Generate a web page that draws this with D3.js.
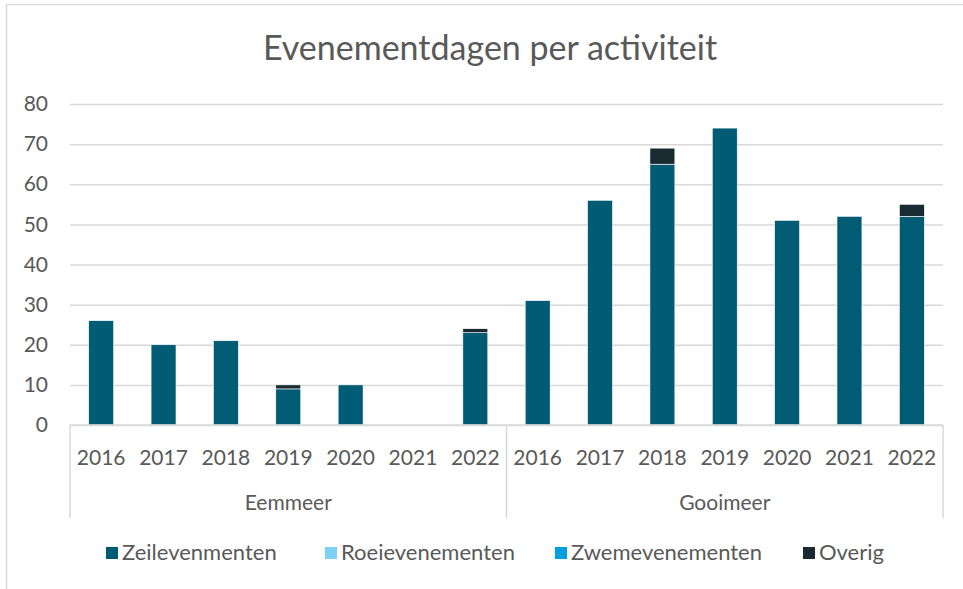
<!DOCTYPE html>
<html>
<head>
<meta charset="utf-8">
<script src="https://cdn.jsdelivr.net/npm/d3@7"></script>
<style>
  body { margin: 0; background: #fff; }
  svg text { font-family: Lato, "Open Sans", sans-serif; fill: #595959; }
</style>
</head>
<body>
<div class="chart"></div>
<script>
// data
const lakes = ['Eemmeer', 'Gooimeer'];
const years = ['2016', '2017', '2018', '2019', '2020', '2021', '2022'];
const series = ['Zeilevenmenten', 'Roeievenementen', 'Zwemevenementen', 'Overig'];
const colors = ['#005b74', '#7fd0f5', '#009fdf', '#1a2a31'];
const zeil = [26, 20, 21, 9, 10, 0, 23, 31, 56, 65, 74, 51, 52, 52];
const roei = [0, 0, 0, 0, 0, 0, 0, 0, 0, 0, 0, 0, 0, 0];
const zwem = [0, 0, 0, 0, 0, 0, 0, 0, 0, 0, 0, 0, 0, 0];
const overig = [0, 0, 0, 1, 0, 0, 1, 0, 0, 4, 0, 0, 0, 3];
const yTicks = [0, 10, 20, 30, 40, 50, 60, 70, 80];

// build rows for the stack
const rows = [];
lakes.forEach((lake, li) => {
    years.forEach((yr, yi) => {
        const i = li * years.length + yi;
        rows.push({key: lake + '-' + yr, lake: lake, year: yr,
            Zeilevenmenten: zeil[i], Roeievenementen: roei[i],
            Zwemevenementen: zwem[i], Overig: overig[i]});
    });
});

const width = 963, height = 589;
const margin = {top: 104, right: 20, bottom: 164, left: 70};
const chartWidth = width - margin.left - margin.right;
const chartHeight = height - margin.top - margin.bottom;

const svg = d3.select('.chart').append('svg')
    .attr('width', width)
    .attr('height', height);

// outer chart border (only top and left show in the picture)
svg.append('path')
    .attr('d', `M6.5,${height} V4.5 H${width}`)
    .attr('fill', 'none')
    .attr('stroke', '#d9d9d9')
    .attr('stroke-width', 1.5);

svg.append('text')
    .attr('x', 490)
    .attr('y', 60)
    .attr('text-anchor', 'middle')
    .style('font-size', '34px')
    .text('Evenementdagen per activiteit');

const g = svg.append('g')
    .attr('transform', `translate(${margin.left}, ${margin.top})`);

const xScale = d3.scaleBand()
    .domain(rows.map(d => d.key))
    .range([0, chartWidth])
    .paddingInner(0.6)
    .paddingOuter(0.3);

const yScale = d3.scaleLinear()
    .domain([0, 80])
    .range([chartHeight, 0]);

// gridlines + y labels
const yAxis = d3.axisLeft(yScale)
    .tickValues(yTicks)
    .tickSizeInner(-chartWidth)
    .tickSizeOuter(0)
    .tickPadding(22);

const yAxisDraw = g.append('g')
    .attr('class', 'y axis')
    .call(yAxis);
yAxisDraw.select('.domain').remove();
yAxisDraw.selectAll('.tick line').attr('stroke', '#d9d9d9').attr('stroke-width', 1.5);
yAxisDraw.selectAll('.tick text').style('font-size', '21px').attr('fill', '#595959');

// stacked bars
const stack = d3.stack().keys(series)(rows);
g.append('g')
    .selectAll('g')
    .data(stack)
    .enter()
    .append('g')
    .attr('fill', (d, i) => colors[i])
    .selectAll('rect')
    .data(d => d.filter(p => p[1] > p[0]))
    .enter()
    .append('rect')
    .attr('x', d => xScale(d.data.key))
    .attr('y', d => yScale(d[1]))
    .attr('width', xScale.bandwidth())
    .attr('height', d => yScale(d[0]) - yScale(d[1]))
    .attr('stroke', '#ffffff')
    .attr('stroke-width', 0.6);

// category axis (years + lake groups)
const axisG = g.append('g').attr('transform', `translate(0, ${chartHeight})`);
const step = xScale.step();
const groupW = step * years.length;
axisG.append('line')
    .attr('x1', 0).attr('x2', chartWidth)
    .attr('y1', 0).attr('y2', 0)
    .attr('stroke', '#d9d9d9').attr('stroke-width', 1.5);
[0, groupW, chartWidth].forEach(x => {
    axisG.append('line')
        .attr('x1', x).attr('x2', x)
        .attr('y1', 0).attr('y2', 93)
        .attr('stroke', '#d9d9d9').attr('stroke-width', 1.5);
});
axisG.selectAll('.yearLabel')
    .data(rows)
    .enter()
    .append('text')
    .attr('class', 'yearLabel')
    .attr('x', d => xScale(d.key) + xScale.bandwidth() / 2)
    .attr('y', 40)
    .attr('text-anchor', 'middle')
    .style('font-size', '21px')
    .text(d => d.year);
axisG.selectAll('.lakeLabel')
    .data(lakes)
    .enter()
    .append('text')
    .attr('class', 'lakeLabel')
    .attr('x', (d, i) => groupW * i + groupW / 2)
    .attr('y', 85)
    .attr('text-anchor', 'middle')
    .style('font-size', '21px')
    .text(d => d);

// legend
const legendX = [106, 325, 555, 803];
const legend = svg.append('g').attr('transform', 'translate(0, 553)');
const item = legend.selectAll('g')
    .data(series)
    .enter()
    .append('g')
    .attr('transform', (d, i) => `translate(${legendX[i]}, 0)`);
item.append('rect')
    .attr('x', 0).attr('y', -6)
    .attr('width', 12).attr('height', 12)
    .attr('fill', (d, i) => colors[i]);
item.append('text')
    .attr('x', 16)
    .attr('y', 7)
    .style('font-size', '22px')
    .text(d => d);
</script>
</body>
</html>
